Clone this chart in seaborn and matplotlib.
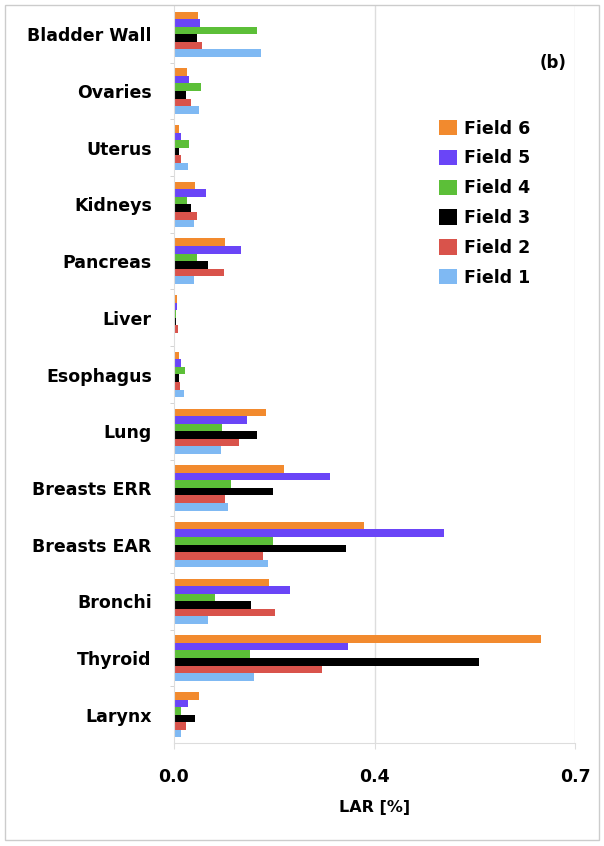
import pandas as pd
import matplotlib.pyplot as plt
import seaborn as sns

organs = ['Bladder Wall', 'Ovaries', 'Uterus', 'Kidneys', 'Pancreas', 'Liver',
          'Esophagus', 'Lung', 'Breasts ERR', 'Breasts EAR', 'Bronchi',
          'Thyroid', 'Larynx']
field6 = [0.045, 0.024, 0.010, 0.040, 0.095, 0.006, 0.010, 0.173, 0.205, 0.355, 0.178, 0.687, 0.047]
field5 = [0.049, 0.028, 0.013, 0.059, 0.126, 0.006, 0.013, 0.137, 0.291, 0.505, 0.217, 0.325, 0.026]
field4 = [0.156, 0.051, 0.028, 0.024, 0.043, 0.003, 0.020, 0.090, 0.107, 0.185, 0.077, 0.142, 0.013]
field3 = [0.043, 0.022, 0.010, 0.032, 0.064, 0.003, 0.010, 0.156, 0.186, 0.321, 0.144, 0.570, 0.040]
field2 = [0.053, 0.032, 0.013, 0.043, 0.094, 0.008, 0.012, 0.121, 0.096, 0.167, 0.188, 0.277, 0.022]
field1 = [0.162, 0.047, 0.026, 0.037, 0.037, 0.002, 0.018, 0.088, 0.101, 0.176, 0.064, 0.150, 0.013]
fields = ['Field 6', 'Field 5', 'Field 4', 'Field 3', 'Field 2', 'Field 1']
colors = ['#f28a2e', '#6a45f7', '#5cbf38', '#000000', '#d9534b', '#7fb9f3']
xticks = [0.0, 0.375, 0.75]
xticklabels = ['0.0', '0.4', '0.7']

rows = []
for name, vals in zip(fields, [field6, field5, field4, field3, field2, field1]):
    for org, v in zip(organs, vals):
        rows.append({'organ': org, 'field': name, 'LAR': v})
df = pd.DataFrame(rows)

sns.set_style('white')
plt.rcParams['font.family'] = ['DejaVu Sans']
plt.rcParams['text.color'] = 'black'
plt.rcParams['axes.labelcolor'] = 'black'

fig = plt.figure(figsize=(6.04, 8.46), dpi=100)
ax = fig.add_axes([174/604, 1-743/846, 401/604, 737/846])
sns.barplot(data=df, y='organ', x='LAR', hue='field', order=organs,
            hue_order=fields, palette=colors, width=0.8, saturation=1,
            linewidth=0, orient='h', ax=ax)

ax.set_xlim(0, 0.75)
ax.set_ylim(len(organs)-0.5, -0.5)
ax.set_xticks(xticks)
ax.set_xticklabels(xticklabels, fontsize=12.5, fontweight='bold')
ax.set_yticks([i for i in range(len(organs))])
ax.set_yticklabels(organs, fontsize=12.5, fontweight='bold')
ax.set_yticks([i + 0.5 for i in range(len(organs) - 1)], minor=True)
ax.tick_params(axis='y', which='major', length=0, pad=16, labelcolor='black')
ax.tick_params(axis='y', which='minor', length=3, color='#cccccc', left=True)
ax.tick_params(axis='x', length=4, color='#dddddd', pad=14, bottom=True, labelcolor='black')
ax.set_ylabel('')
ax.set_xlabel('LAR [%]', fontsize=11.5, fontweight='bold', labelpad=10)

for x in xticks[1:]:
    ax.axvline(x, color='#dddddd', lw=1, zorder=0)
for side in ['top', 'right']:
    ax.spines[side].set_visible(False)
ax.spines['left'].set_color('#dddddd')
ax.spines['bottom'].set_color('#dddddd')

ax.text(0.98, 0.923, '(b)', transform=ax.transAxes, ha='right', va='center',
        fontsize=12, fontweight='bold')

leg = ax.legend(loc='upper left', bbox_to_anchor=(0.623, 0.867), frameon=False,
                handlelength=1.0, handleheight=1.0, handletextpad=0.4,
                labelspacing=0.68, prop={'size': 12.5, 'weight': 'bold'})

fig.add_artist(plt.Rectangle((0.008, 0.007), 0.983, 0.987, transform=fig.transFigure,
                             fill=False, edgecolor='#cccccc', lw=1))

plt.savefig('out.png', dpi=100)
